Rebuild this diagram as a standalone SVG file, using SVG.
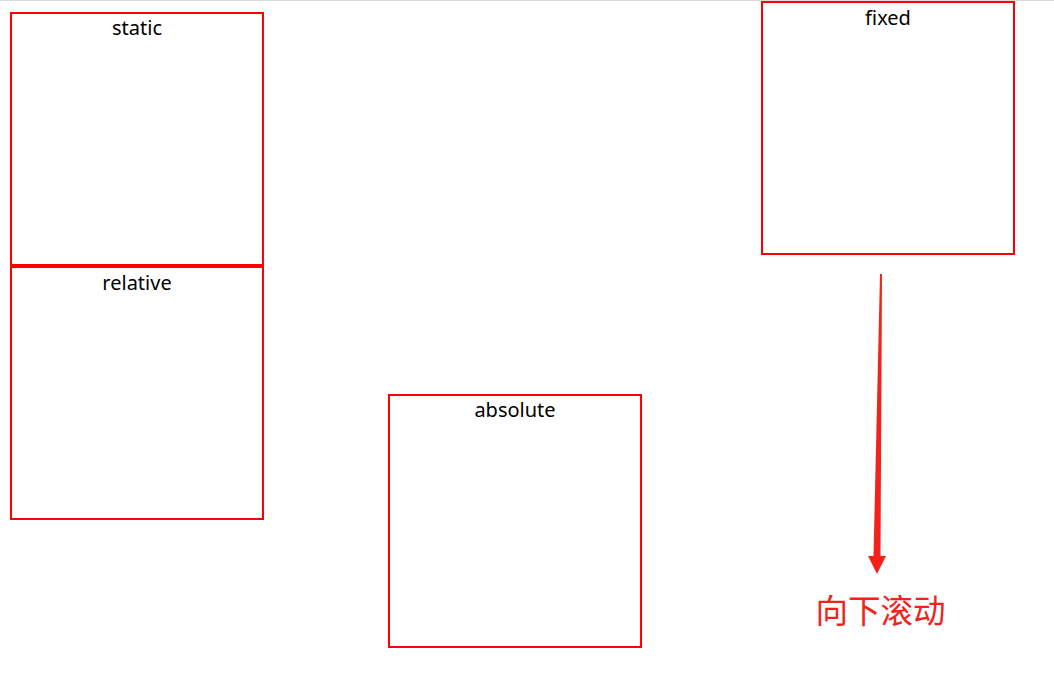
<svg xmlns="http://www.w3.org/2000/svg" width="1054" height="684" viewBox="0 0 1054 684">
<style>
.box{fill:none;stroke:#ff0000;stroke-width:2}
.lbl{font-family:"Noto Sans","Open Sans","Liberation Sans",sans-serif;font-size:20px;fill:#000;text-anchor:middle}
.note{font-family:"Noto Sans CJK SC","Noto Sans",sans-serif;font-size:32.5px;fill:#f5221a}
</style>
<rect x="0" y="0" width="1054" height="684" fill="#ffffff"/>
<line x1="0" y1="0.5" x2="1054" y2="0.5" stroke="#dcdcdc" stroke-width="1"/>
<g id="static">
<rect class="box" x="11" y="13" width="252" height="252"/>
<text class="lbl" x="137" y="34.5">static</text>
</g>
<g id="relative">
<rect class="box" x="11" y="267" width="252" height="252"/>
<text class="lbl" x="137" y="289.5">relative</text>
</g>
<g id="absolute">
<rect class="box" x="389" y="395" width="252" height="252"/>
<text class="lbl" x="515" y="417">absolute</text>
</g>
<g id="fixed">
<rect class="box" x="762" y="2" width="252" height="252"/>
<text class="lbl" x="888" y="24.5">fixed</text>
</g>
<g id="connectors">
<polygon points="880,274 882,274 880.5,556 886,556 877,574 868,556 873.5,556" fill="#f5221a"/>
</g>
<g id="scroll-note">
<text class="note" x="815.5" y="622.5">向下滚动</text>
</g>
</svg>
